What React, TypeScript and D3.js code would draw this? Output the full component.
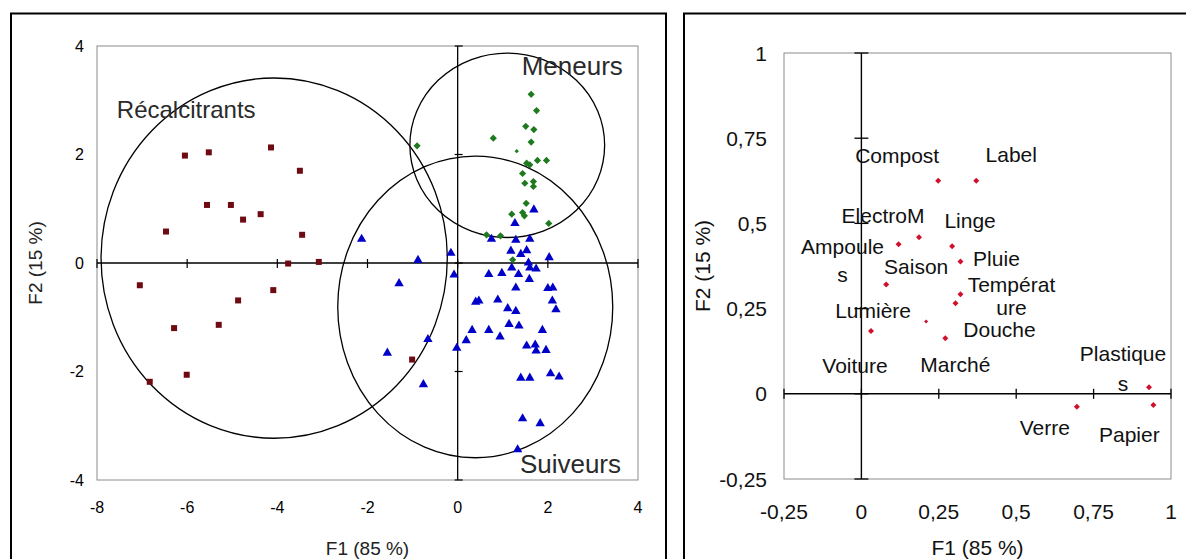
import React from 'react';
import * as d3 from 'd3';

// ---------- Left panel data (individuals on F1 / F2) ----------
const recalcitrants: [number, number][] = [
  [-6.05, 1.98], [-5.52, 2.04], [-4.14, 2.13], [-3.5, 1.7], [-5.56, 1.07],
  [-5.03, 1.07], [-4.37, 0.9], [-4.76, 0.8], [-6.47, 0.58], [-3.45, 0.52],
  [-3.76, -0.01], [-3.08, 0.02], [-7.05, -0.41], [-4.09, -0.5], [-4.87, -0.69],
  [-6.29, -1.2], [-5.3, -1.14], [-6.01, -2.06], [-6.83, -2.19], [-1.01, -1.78],
];

const meneurs: [number, number][] = [
  [1.63, 3.11], [1.75, 2.81], [1.51, 2.52], [1.69, 2.46], [1.63, 2.23],
  [0.79, 2.3], [-0.9, 2.16], [1.53, 1.84], [1.6, 1.81], [1.77, 1.89],
  [1.97, 1.89], [1.44, 1.65], [1.49, 1.47], [1.68, 1.5], [1.68, 1.41],
  [1.52, 1.1], [1.2, 0.9], [1.44, 0.93], [1.48, 0.87], [2.02, 0.73],
  [0.64, 0.52], [0.95, 0.5], [1.22, 0.06],
];
const meneursMinor: [number, number][] = [[1.31, 2.06]];

const suiveurs: [number, number][] = [
  [1.69, 1.0], [1.27, 0.75], [-2.13, 0.46], [0.75, 0.46], [1.29, 0.44],
  [1.6, 0.46], [1.18, 0.24], [1.4, 0.18], [1.53, 0.25], [-0.15, 0.2],
  [-0.88, 0.07], [2.03, 0.12], [1.57, 0.02], [1.2, -0.07], [1.6, -0.07],
  [1.74, -0.09], [-0.08, -0.2], [0.69, -0.19], [0.98, -0.17], [1.35, -0.19],
  [1.59, -0.28], [-1.3, -0.36], [1.29, -0.44], [2.0, -0.45], [2.11, -0.44],
  [0.4, -0.7], [0.47, -0.68], [0.89, -0.66], [2.1, -0.68], [1.11, -0.82],
  [1.29, -0.87], [2.18, -0.84], [1.14, -1.11], [1.36, -1.14], [0.32, -1.22],
  [0.69, -1.22], [1.88, -1.22], [0.94, -1.34], [-0.66, -1.39], [0.19, -1.41],
  [-0.02, -1.55], [1.53, -1.51], [1.72, -1.49], [1.74, -1.6], [1.96, -1.59],
  [-1.56, -1.64], [1.4, -2.1], [1.6, -2.1], [2.06, -2.02], [2.25, -2.08],
  [-0.76, -2.22], [1.44, -2.85], [1.83, -2.94], [1.33, -3.42],
];

// group ellipses, in data units: [cx, cy, rx, ry]
const groupNames = ['Récalcitrants', 'Meneurs', 'Suiveurs'];
const groupEllipses: [number, number, number, number][] = [
  [-4.07, 0.09, 3.84, 3.32],
  [1.1, 2.17, 2.16, 1.7],
  [0.39, -0.81, 3.05, 2.78],
];
// group label anchors (data units, start of text / baseline)
const groupLabelAnchors: [number, number][] = [
  [-7.56, 2.67],
  [1.42, 3.47],
  [1.38, -3.88],
];

const leftXTicks = [-8, -6, -4, -2, 0, 2, 4];
const leftYTicks = [-4, -2, 0, 2, 4];

// ---------- Right panel data (variables on F1 / F2) ----------
const variables = [
  'Compost', 'Label', 'ElectroM', 'Ampoules', 'Linge', 'Pluie', 'Saison',
  'Températures', 'Douche', 'Lumière', 'Voiture', 'Marché', 'Plastiques',
  'Verre', 'Papier',
];
const varF1 = [0.248, 0.371, 0.186, 0.12, 0.293, 0.32, 0.08, 0.32, 0.304, 0.209, 0.031, 0.271, 0.929, 0.696, 0.943];
const varF2 = [0.625, 0.625, 0.459, 0.439, 0.433, 0.388, 0.321, 0.292, 0.266, 0.212, 0.184, 0.163, 0.019, -0.038, -0.033];
// label text as displayed (wrapped lines)
const varLabelLines: string[][] = [
  ['Compost'], ['Label'], ['ElectroM'], ['Ampoule', 's'], ['Linge'], ['Pluie'],
  ['Saison'], ['Températ', 'ure'], ['Douche'], ['Lumière'], ['Voiture'],
  ['Marché'], ['Plastique', 's'], ['Verre'], ['Papier'],
];
const rightTicks = [-0.25, 0, 0.25, 0.5, 0.75, 1];
const rightTickLabels = ['-0,25', '0', '0,25', '0,5', '0,75', '1'];

// label layout: offsets (px, centre / baseline of first line relative to point) and line gap
const varLabelOffsets: [number, number][] = [
  [-41, -18], [35, -19], [-36, -14], [-56, 9.5], [18, -18], [36, 4.5],
  [30, -10.5], [51, -2], [44, 34], [-53, -3.5], [-16, 41.5], [10, 34],
  [-26, -26], [-32, 28], [-24, 36.5],
];
const varLabelLineGap = [0, 0, 0, 28.5, 0, 0, 0, 23, 0, 0, 0, 0, 29.5, 0, 0];

const FONT = '"Liberation Sans", Arial, sans-serif';

export default function App() {
  const lx = d3.scaleLinear().domain([-8, 4]).range([97, 638]);
  const ly = d3.scaleLinear().domain([-4, 4]).range([480, 46]);
  const rx = d3.scaleLinear().domain([-0.25, 1]).range([784, 1171]);
  const ry = d3.scaleLinear().domain([-0.25, 1]).range([479, 53]);

  const squarePath = d3.symbol(d3.symbolSquare, 36)()!;
  const trianglePath = d3.symbol(d3.symbolTriangle, 38)()!;
  const diamondPath = d3.symbol(d3.symbolSquare, 26)()!;
  const diamondSmall = d3.symbol(d3.symbolSquare, 9)()!;
  const redDiamond = d3.symbol(d3.symbolSquare, 18)()!;
  const redDiamondSmall = d3.symbol(d3.symbolSquare, 8)()!;

  return (
    <svg
      width={1186}
      height={559}
      style={{ position: 'absolute', left: 0, top: 0, background: '#fff' }}
      fontFamily={FONT}
    >
      <rect x={0} y={0} width={1186} height={559} fill="#fff" />
      {/* outer frames */}
      <rect x={11} y={13.5} width={655} height={570} fill="none" stroke="#000" strokeWidth={2} />
      <rect x={684} y={13.5} width={540} height={570} fill="none" stroke="#000" strokeWidth={2} />

      {/* ===== LEFT PANEL ===== */}
      <rect x={lx(-8)} y={ly(4)} width={lx(4) - lx(-8)} height={ly(-4) - ly(4)} fill="#fff" stroke="#8c8c8c" strokeWidth={1} />
      {/* axes through origin */}
      <line x1={lx(-8)} x2={lx(4)} y1={ly(0)} y2={ly(0)} stroke="#000" strokeWidth={1.3} />
      <line x1={lx(0)} x2={lx(0)} y1={ly(-4)} y2={ly(4)} stroke="#000" strokeWidth={1.3} />
      {leftXTicks.map((t) => (
        <line key={'lxt' + t} x1={lx(t)} x2={lx(t)} y1={ly(0) - 4} y2={ly(0) + 5} stroke="#000" strokeWidth={1.2} />
      ))}
      {leftYTicks.map((t) => (
        <line key={'lyt' + t} x1={lx(0) - 3} x2={lx(0) + 5} y1={ly(t)} y2={ly(t)} stroke="#000" strokeWidth={1.2} />
      ))}
      {leftXTicks.map((t) => (
        <text key={'lxl' + t} x={lx(t)} y={513} textAnchor="middle" fontSize={16} fill="#000">
          {t}
        </text>
      ))}
      {leftYTicks.map((t) => (
        <text key={'lyl' + t} x={84} y={ly(t) + 5.5} textAnchor="end" fontSize={16} fill="#000">
          {t}
        </text>
      ))}
      <text x={(lx(-8) + lx(4)) / 2} y={555} textAnchor="middle" fontSize={19} fill="#222">
        F1 (85 %)
      </text>
      <text
        transform={`translate(${42},${(ly(-4) + ly(4)) / 2}) rotate(-90)`}
        textAnchor="middle"
        fontSize={19}
        fill="#222"
      >
        F2 (15 %)
      </text>

      {/* group ellipses */}
      {groupEllipses.map(([cx, cy, erx, ery], i) => (
        <ellipse
          key={'ell' + i}
          cx={lx(cx)}
          cy={ly(cy)}
          rx={lx(cx + erx) - lx(cx)}
          ry={ly(cy) - ly(cy + ery)}
          fill="none"
          stroke="#000"
          strokeWidth={1.3}
        />
      ))}

      {/* points */}
      {recalcitrants.map(([x, y], i) => (
        <path key={'r' + i} d={squarePath} transform={`translate(${lx(x)},${ly(y)})`} fill="#6e0a12" />
      ))}
      {suiveurs.map(([x, y], i) => (
        <path key={'s' + i} d={trianglePath} transform={`translate(${lx(x)},${ly(y) + 1})`} fill="#0000c8" />
      ))}
      {meneurs.map(([x, y], i) => (
        <path key={'m' + i} d={diamondPath} transform={`translate(${lx(x)},${ly(y)}) rotate(45)`} fill="#1f7a1f" />
      ))}
      {meneursMinor.map(([x, y], i) => (
        <path key={'mm' + i} d={diamondSmall} transform={`translate(${lx(x)},${ly(y)}) rotate(45)`} fill="#1f7a1f" />
      ))}

      {groupNames.map((name, i) => (
        <text
          key={'gn' + i}
          x={lx(groupLabelAnchors[i][0])}
          y={ly(groupLabelAnchors[i][1])}
          fontSize={i === 0 ? 24 : 26}
          fill="#2a2a2a"
        >
          {name}
        </text>
      ))}

      {/* ===== RIGHT PANEL ===== */}
      <rect x={rx(-0.25)} y={ry(1)} width={rx(1) - rx(-0.25)} height={ry(-0.25) - ry(1)} fill="#fff" stroke="#8c8c8c" strokeWidth={1} />
      <line x1={rx(-0.25)} x2={rx(1)} y1={ry(0)} y2={ry(0)} stroke="#000" strokeWidth={1.4} />
      <line x1={rx(0)} x2={rx(0)} y1={ry(-0.25)} y2={ry(1)} stroke="#000" strokeWidth={1.4} />
      {rightTicks.map((t) => (
        <line key={'rxt' + t} x1={rx(t)} x2={rx(t)} y1={ry(0) - 5} y2={ry(0) + 5} stroke="#000" strokeWidth={1.3} />
      ))}
      {rightTicks.map((t) => (
        <line key={'ryt' + t} x1={rx(0) - 7} x2={rx(0) + 7} y1={ry(t)} y2={ry(t)} stroke="#000" strokeWidth={1.3} />
      ))}
      {rightTicks.map((t, i) => (
        <text key={'rxl' + t} x={rx(t)} y={519} textAnchor="middle" fontSize={21} fill="#111">
          {rightTickLabels[i]}
        </text>
      ))}
      {rightTicks.map((t, i) => (
        <text key={'ryl' + t} x={767} y={ry(t) + 7.5} textAnchor="end" fontSize={21} fill="#111">
          {rightTickLabels[i]}
        </text>
      ))}
      <text x={(rx(-0.25) + rx(1)) / 2} y={555} textAnchor="middle" fontSize={21} fill="#111">
        F1 (85 %)
      </text>
      <text
        transform={`translate(${710},${(ry(-0.25) + ry(1)) / 2}) rotate(-90)`}
        textAnchor="middle"
        fontSize={21}
        fill="#111"
      >
        F2 (15 %)
      </text>

      {variables.map((v, i) => (
        <path
          key={'vp' + v}
          d={i === 9 ? redDiamondSmall : redDiamond}
          transform={`translate(${rx(varF1[i])},${ry(varF2[i])}) rotate(45)`}
          fill="#d0102c"
        />
      ))}
      {variables.map((v, i) => (
        <text
          key={'vl' + v}
          x={rx(varF1[i]) + varLabelOffsets[i][0]}
          y={ry(varF2[i]) + varLabelOffsets[i][1]}
          textAnchor="middle"
          fontSize={21}
          fill="#111"
        >
          {varLabelLines[i].map((line, j) => (
            <tspan key={j} x={rx(varF1[i]) + varLabelOffsets[i][0]} dy={j === 0 ? 0 : varLabelLineGap[i]}>
              {line}
            </tspan>
          ))}
        </text>
      ))}
    </svg>
  );
}
